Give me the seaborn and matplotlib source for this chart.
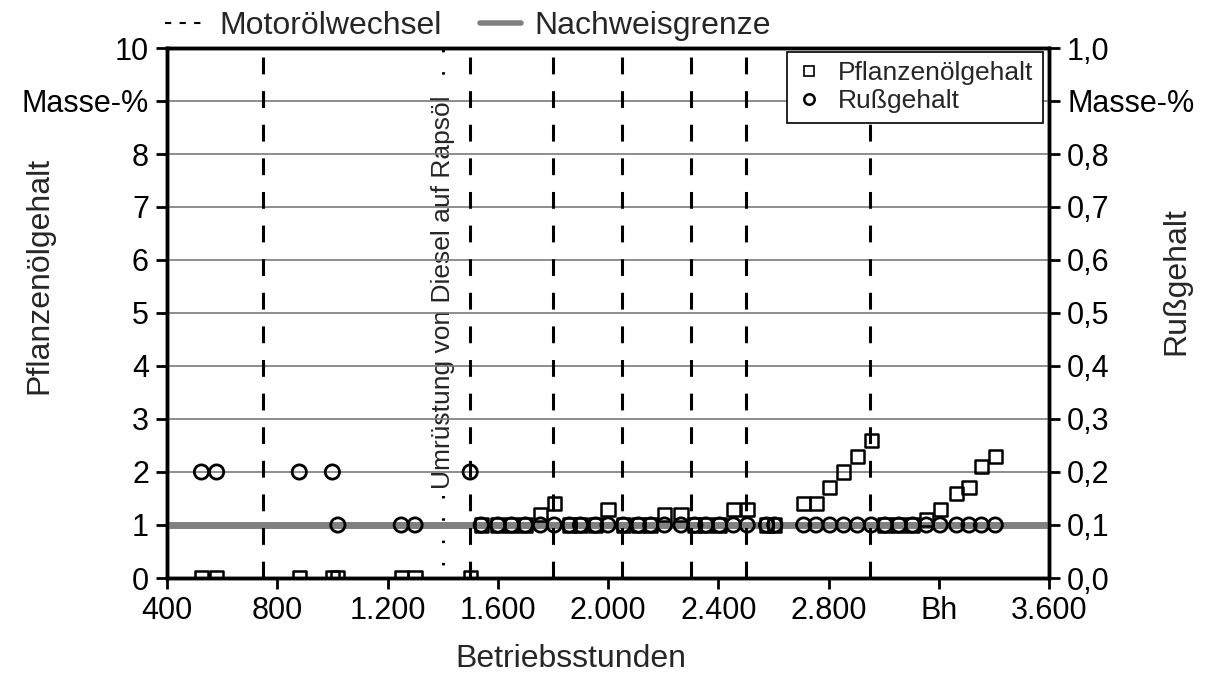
import matplotlib
matplotlib.use("Agg")
import matplotlib.pyplot as plt
import seaborn as sns
import pandas as pd
from matplotlib.lines import Line2D

# ---------------- data ----------------
hours = [525, 580, 880, 1000, 1020, 1250, 1300, 1500,
         1540, 1600, 1650, 1700, 1755, 1805, 1860, 1900, 1955, 2000,
         2055, 2110, 2155, 2205, 2265, 2315, 2355, 2405, 2455, 2505,
         2575, 2605, 2710, 2755, 2805, 2855, 2905, 2955, 3005, 3055,
         3105, 3155, 3205, 3265, 3310, 3355, 3405]
pflanzenoel = [0, 0, 0, 0, 0, 0, 0, 0,
               1, 1, 1, 1, 1.2, 1.4, 1, 1, 1, 1.3,
               1, 1, 1, 1.2, 1.2, 1, 1, 1, 1.3, 1.3,
               1, 1, 1.4, 1.4, 1.7, 2.0, 2.3, 2.6, 1, 1,
               1, 1.1, 1.3, 1.6, 1.7, 2.1, 2.3]
russ = [0.2, 0.2, 0.2, 0.2, 0.1, 0.1, 0.1, 0.2] + [0.1] * 37
oil_changes = [750, 1500, 1800, 2050, 2300, 2500, 2950]
conversion = 1400
detection_limit = 1.0
x_ticks = [400, 800, 1200, 1600, 2000, 2400, 2800, 3200, 3600]
x_ticklabels = ["400", "800", "1.200", "1.600", "2.000", "2.400", "2.800", "Bh", "3.600"]
yl_ticks = list(range(0, 11))
yl_ticklabels = ["0", "1", "2", "3", "4", "5", "6", "7", "8", "Masse-%", "10"]
yr_ticks = [i / 10 for i in range(0, 11)]
yr_ticklabels = ["0,0", "0,1", "0,2", "0,3", "0,4", "0,5", "0,6", "0,7", "0,8", "Masse-%", "1,0"]

df = pd.DataFrame({"Betriebsstunden": hours, "Pflanzenoel": pflanzenoel, "Russ": russ})

# ---------------- style ----------------
sns.set_style("ticks")
plt.rcParams["font.family"] = ["Liberation Sans", "DejaVu Sans"]

fig = plt.figure(figsize=(12.16, 6.73), dpi=100)
ax = fig.add_axes([167 / 1216, 1 - 578 / 673, (1049 - 167) / 1216, (578 - 48) / 673])
ax2 = ax.twinx()

ax.set_xlim(400, 3600)
ax.set_ylim(0, 10)
ax2.set_ylim(0, 1)

# grid above text background
ax.set_axisbelow(False)
ax.yaxis.grid(True, color="#7a7a7a", lw=1.2, zorder=2.5)
ax.xaxis.grid(False)

# conversion line (dotted) + annotation
ax.axvline(conversion, color="black", lw=2.2, linestyle=(3, (0.8, 6.5)), zorder=1.5)
ax.text(conversion, 5.4, "Umrüstung von Diesel auf Rapsöl", rotation=90,
        ha="center", va="center", fontsize=19, zorder=1.6,
        bbox=dict(facecolor="white", edgecolor="none", pad=0.5))

# oil change lines
for oc in oil_changes:
    ax.axvline(oc, color="black", lw=2.2, linestyle=(0, (5.5, 5.5)), zorder=2.7)

# detection limit
ax.axhline(detection_limit, color="#808080", lw=5, zorder=2.6)

# data
sns.scatterplot(data=df, x="Betriebsstunden", y="Pflanzenoel", ax=ax, marker="s",
                s=90, facecolor="none", edgecolor="black", linewidth=1.8, zorder=3,
                legend=False)
sns.scatterplot(data=df, x="Betriebsstunden", y="Russ", ax=ax2, marker="o",
                s=105, facecolor="none", edgecolor="black", linewidth=2.0, zorder=3,
                legend=False)

# ticks
ax.set_xticks(x_ticks)
ax.set_xticklabels(x_ticklabels)
ax.set_yticks(yl_ticks)
ax.set_yticklabels(yl_ticklabels)
ax2.set_yticks(yr_ticks)
ax2.set_yticklabels(yr_ticklabels)
for a in (ax, ax2):
    a.tick_params(axis="both", direction="out", length=8, width=2, labelsize=22, pad=5,
                  color="black", labelcolor="black")
    for sp in a.spines.values():
        sp.set_visible(True)
        sp.set_linewidth(2.5)
        sp.set_color("black")

ax.set_xlabel("Betriebsstunden", fontsize=23)
ax.set_ylabel("Pflanzenölgehalt", fontsize=23)
ax2.set_ylabel("Rußgehalt", fontsize=23)
ax.xaxis.set_label_coords(0.458, -0.125)
ax.yaxis.set_label_coords(-0.128, 0.57)
ax2.yaxis.set_label_coords(1.127, 0.56)
ax2.set_xlabel("")

# inner legend
h_sq = Line2D([], [], marker="s", linestyle="none", markersize=7.5, mfc="none",
              mec="black", mew=1.2)
h_ci = Line2D([], [], marker="o", linestyle="none", markersize=7.5, mfc="none",
              mec="black", mew=1.8)
leg = ax2.legend([h_sq, h_ci], ["Pflanzenölgehalt", "Rußgehalt"], loc="upper right",
                 bbox_to_anchor=(0.993, 0.992), borderaxespad=0, fontsize=19,
                 frameon=True, fancybox=False, framealpha=1, edgecolor="black",
                 handlelength=1.0, handletextpad=0.6, labelspacing=0.15,
                 borderpad=0.35)
leg.get_frame().set_linewidth(1.2)

# top legend
h_oc = Line2D([], [], color="black", lw=1.5, linestyle=(0, (3, 4)))
h_nw = Line2D([], [], color="#808080", lw=4)
fig.legend([h_oc, h_nw], ["Motorölwechsel", "Nachweisgrenze"], loc="upper left",
           bbox_to_anchor=(152 / 1216, 1.003), ncol=2, frameon=False, fontsize=23,
           handlelength=1.3, handletextpad=0.4, columnspacing=1.2, borderaxespad=0)

fig.savefig("out.png", dpi=100)
